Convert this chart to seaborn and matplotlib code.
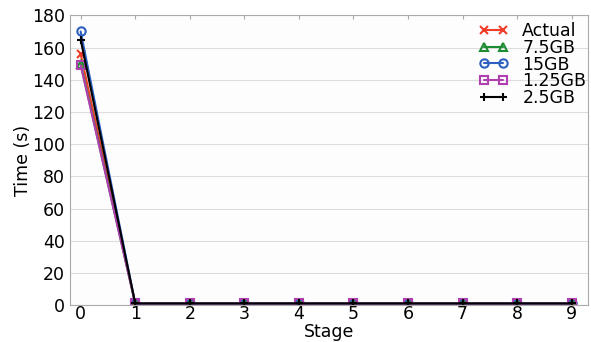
import matplotlib
matplotlib.use("Agg")
import matplotlib.pyplot as plt
import seaborn as sns
import pandas as pd

stages = [0, 1, 2, 3, 4, 5, 6, 7, 8, 9]
actual = [156, 1, 1, 1, 1, 1, 1, 1, 1, 1]
gb7_5 = [150, 1, 1, 1, 1, 1, 1, 1, 1, 1]
gb15 = [170, 1, 1, 1, 1, 1, 1, 1, 1, 1]
gb1_25 = [149, 1, 1, 1, 1, 1, 1, 1, 1, 1]
gb2_5 = [165, 1, 1, 1, 1, 1, 1, 1, 1, 1]
series_names = ["Actual", "7.5GB", "15GB", "1.25GB", "2.5GB"]
yticks = [0, 20, 40, 60, 80, 100, 120, 140, 160, 180]

sns.set_style("whitegrid")
plt.rcParams['font.family'] = ['DejaVu Sans']
plt.rcParams['text.color'] = 'black'
plt.rcParams['axes.labelcolor'] = 'black'
plt.rcParams['xtick.color'] = 'black'
plt.rcParams['ytick.color'] = 'black'
plt.rcParams['legend.numpoints'] = 2

rows = []
for name, vals in zip(series_names, [actual, gb7_5, gb15, gb1_25, gb2_5]):
    for s, v in zip(stages, vals):
        rows.append({"Stage": s, "Time": v, "Series": name})
df = pd.DataFrame(rows)

colors = {"Actual": "#f03c28", "7.5GB": "#1e8c32", "15GB": "#2c5fbf",
          "1.25GB": "#b040b0", "2.5GB": "#000000"}
markers = {"Actual": "x", "7.5GB": "^", "15GB": "o", "1.25GB": "s", "2.5GB": "+"}

fig, ax = plt.subplots(figsize=(5.91, 3.42), dpi=100)
fig.subplots_adjust(left=0.118, right=0.995, top=0.955, bottom=0.108)

for name in series_names:
    sub = df[df.Series == name]
    mfc = "none" if markers[name] in ("^", "o", "s") else colors[name]
    sns.lineplot(data=sub, x="Stage", y="Time", ax=ax, color=colors[name],
                 marker=markers[name], markersize=6, markerfacecolor=mfc,
                 markeredgecolor=colors[name], markeredgewidth=1.5,
                 linewidth=1.5, label=name)

ax.set_xlim(-0.2, 9.3)
ax.set_ylim(0, 180)
ax.set_yticks(yticks)
ax.set_xticks(stages)
ax.set_xlabel("Stage", fontsize=12.5, labelpad=0)
ax.set_ylabel("Time (s)", fontsize=12.5, labelpad=0)
ax.tick_params(axis='both', labelsize=12.5, pad=0, colors='black')
ax.xaxis.grid(False)
ax.yaxis.grid(True, color="#dddddd", linewidth=0.8)
ax.set_facecolor("#fdfdfe")
for sp in ax.spines.values():
    sp.set_color("#aaaaaa")
    sp.set_linewidth(0.8)
ax.tick_params(axis='x', top=True, direction='in', length=3, color="#aaaaaa")

leg = ax.legend(loc="upper right", frameon=False, fontsize=12.5, handlelength=1.7,
                handletextpad=0.8, labelspacing=-0.08, borderaxespad=0.0,
                bbox_to_anchor=(1.01, 1.0), numpoints=2)
for t in leg.get_texts():
    t.set_color('black')

fig.savefig("out.png", dpi=100)
